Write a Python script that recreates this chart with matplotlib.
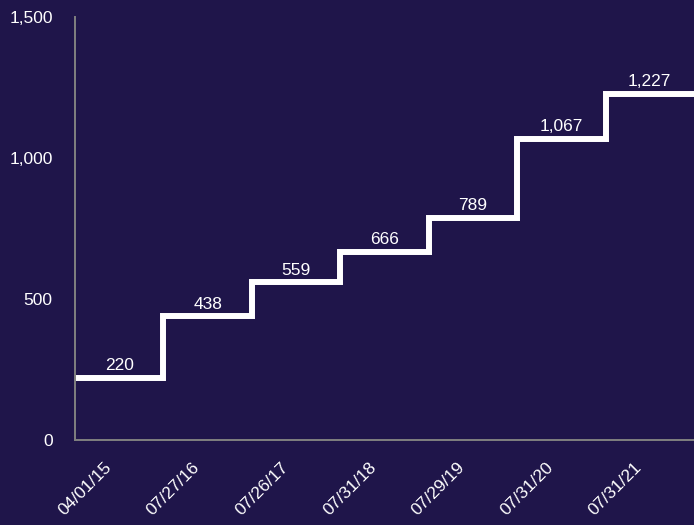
import matplotlib
matplotlib.use("Agg")
import matplotlib.pyplot as plt
import matplotlib.transforms as mtrans
import numpy as np

dates = ["04/01/15", "07/27/16", "07/26/17", "07/31/18", "07/29/19", "07/31/20", "07/31/21"]
values = [220, 438, 559, 666, 789, 1067, 1227]
yticks = [0, 500, 1000, 1500]
ytick_labels = ["0", "500", "1,000", "1,500"]

bg = "#1f154a"
plt.rcParams['font.family'] = ['Liberation Sans', 'DejaVu Sans']
fs = 12.5

fig = plt.figure(figsize=(6.94, 5.25), dpi=100, facecolor=bg)
ax = fig.add_axes([75/694, 1 - 440/525, (694-75)/694, (440-17)/525])
ax.set_facecolor(bg)

n = len(values)
edges = np.arange(n + 1) - 0.5
ax.stairs(values, edges, baseline=None, color="white", lw=4.3)

for i, v in enumerate(values):
    ax.annotate(f"{v:,}", (i, v), xytext=(0, 3.5), textcoords="offset points",
                ha="center", va="bottom", color="white", fontsize=fs)

ax.set_xlim(-0.5, n - 0.5)
ax.set_ylim(0, 1500)
ax.set_xticks(range(n))
ax.set_xticklabels(dates, rotation=45, ha="right", color="white", fontsize=fs)
ax.set_yticks(yticks)
ax.set_yticklabels(ytick_labels, color="white", fontsize=fs)
ax.tick_params(axis="both", length=0)
ax.tick_params(axis="y", pad=16)
ax.tick_params(axis="x", pad=14)

offset = mtrans.ScaledTranslation(-5/100, 0, fig.dpi_scale_trans)
for lab in ax.get_xticklabels():
    lab.set_transform(lab.get_transform() + offset)

for s in ["top", "right"]:
    ax.spines[s].set_visible(False)
for s in ["left", "bottom"]:
    ax.spines[s].set_color("#808080")
    ax.spines[s].set_linewidth(1.4)

fig.savefig("out.png", dpi=100, facecolor=bg)
